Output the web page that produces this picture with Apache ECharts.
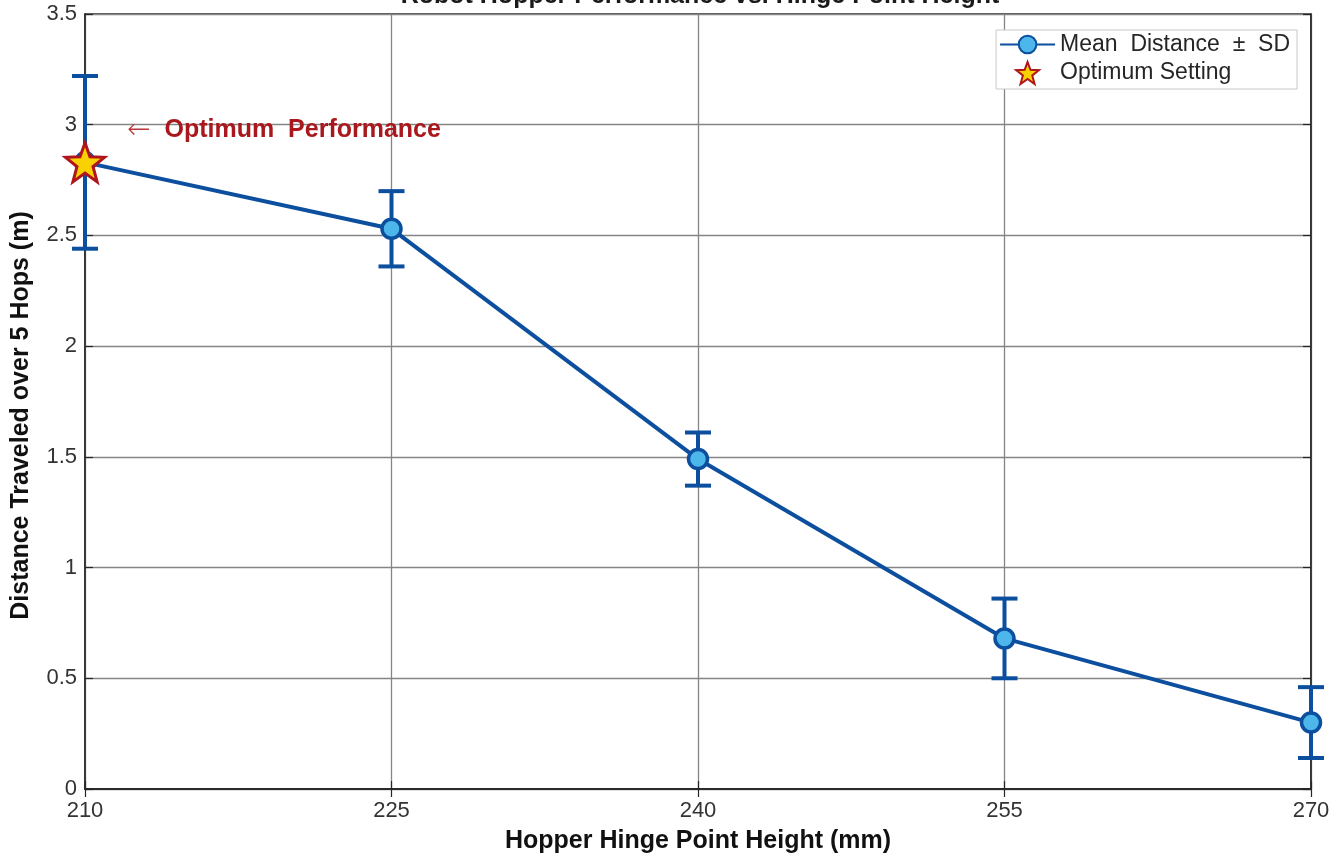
<!DOCTYPE html>
<html>
<head>
<meta charset="utf-8">
<script src="https://cdn.jsdelivr.net/npm/echarts@6/dist/echarts.min.js"></script>
<style>html,body{margin:0;padding:0;background:#fff}#c{width:1335px;height:856px}</style>
</head>
<body>
<div id="c"></div>
<script>
var heights = [210, 225, 240, 255, 270];
var meanDist = [2.83, 2.53, 1.49, 0.68, 0.30];
var sdDist = [0.39, 0.17, 0.12, 0.18, 0.16];
var optimumPoint = [210, 2.83];
var annotationPoint = [210, 2.975];
var xTicks = [210, 225, 240, 255, 270];
var yTicks = [0, 0.5, 1, 1.5, 2, 2.5, 3, 3.5];

var BLUE = '#0B4F9E';
var LIGHT = '#4DB6EA';
var DARKRED = '#A8181C';
var FONT = '"Liberation Sans", Arial, sans-serif';
var STAR = 'path://M50,0 L62.5,34 L99,35.3 L70.2,58 L80.4,95 L50,73.5 L19.6,95 L29.8,58 L1,35.3 L37.5,34 Z';

var meanData = heights.map(function (h, i) { return [h, meanDist[i]]; });
var errData = heights.map(function (h, i) { return [h, meanDist[i] - sdDist[i], meanDist[i] + sdDist[i]]; });

function mkX(pos, labels) {
  return {
    type: 'value', min: 210, max: 270, interval: 15, position: pos,
    name: labels ? 'Hopper Hinge Point Height (mm)' : '', nameLocation: 'middle', nameGap: 40,
    nameTextStyle: { fontFamily: FONT, fontSize: 25, fontWeight: 'bold', color: '#111' },
    axisLine: { show: true, lineStyle: { color: '#262626', width: 1.5 } },
    axisTick: { show: true, inside: true, length: 8, lineStyle: { color: '#262626', width: 1.2 } },
    axisLabel: { show: labels, fontFamily: FONT, fontSize: 22, color: '#333', margin: 11,
      formatter: function (v) { return xTicks.indexOf(v) >= 0 ? String(v) : ''; } },
    splitLine: { show: labels, lineStyle: { color: '#858585', width: 1.3 } }
  };
}
function mkY(pos, labels) {
  return {
    type: 'value', min: 0, max: 3.5, interval: 0.5, position: pos,
    name: labels ? 'Distance Traveled over 5 Hops (m)' : '', nameLocation: 'middle', nameGap: 51, nameRotate: 90,
    nameTextStyle: { fontFamily: FONT, fontSize: 25, fontWeight: 'bold', color: '#111', padding: [0, 28, 0, 0] },
    axisLine: { show: true, lineStyle: { color: '#262626', width: 1.5 } },
    axisTick: { show: true, inside: true, length: 8, lineStyle: { color: '#262626', width: 1.2 } },
    axisLabel: { show: labels, fontFamily: FONT, fontSize: 22, color: '#333', margin: 8,
      formatter: function (v) { return yTicks.indexOf(v) >= 0 ? String(v) : ''; } },
    splitLine: { show: labels, lineStyle: { color: '#858585', width: 1.3 } }
  };
}

var chart = echarts.init(document.getElementById('c'));
chart.setOption({
  animation: false,
  backgroundColor: '#fff',
  textStyle: { fontFamily: FONT },
  title: {
    text: 'Robot Hopper Performance vs. Hinge Point Height',
    left: 695, textAlign: 'center', top: -21,
    textStyle: { fontFamily: FONT, fontSize: 25, fontWeight: 'bold', color: '#1a1a1a' }
  },
  grid: { left: 85, right: 24, top: 14, bottom: 67, outerBoundsMode: 'none', containLabel: false,
    show: true, borderColor: '#262626', borderWidth: 1.5, backgroundColor: 'transparent' },
  legend: {
    right: 38, top: 30, orient: 'vertical',
    backgroundColor: '#fff', borderColor: '#c8c8c8', borderWidth: 1,
    padding: [3, 7, 4, 3], itemGap: 5, itemWidth: 55, itemHeight: 22,
    textStyle: { fontFamily: FONT, fontSize: 23, color: '#262626' },
    data: [
      { name: 'Mean  Distance  \u00b1  SD' },
      { name: 'Optimum Setting', icon: STAR }
    ]
  },
  xAxis: [mkX('bottom', true), mkX('top', false)],
  yAxis: [mkY('left', true), mkY('right', false)],
  series: [
    {
      name: 'errbars', type: 'custom', data: errData, z: 3, silent: true,
      clip: false,
      renderItem: function (params, api) {
        var x = api.value(0);
        var lo = api.coord([x, api.value(1)]);
        var hi = api.coord([x, api.value(2)]);
        var cap = 13;
        var st = { stroke: BLUE, lineWidth: 4, fill: null };
        return {
          type: 'group',
          children: [
            { type: 'line', shape: { x1: lo[0], y1: lo[1], x2: hi[0], y2: hi[1] }, style: st },
            { type: 'line', shape: { x1: lo[0] - cap, y1: lo[1], x2: lo[0] + cap, y2: lo[1] }, style: st },
            { type: 'line', shape: { x1: hi[0] - cap, y1: hi[1], x2: hi[0] + cap, y2: hi[1] }, style: st }
          ]
        };
      }
    },
    {
      name: 'Mean  Distance  \u00b1  SD', type: 'line', data: meanData, z: 4,
      symbol: 'circle', symbolSize: 19, showSymbol: true,
      lineStyle: { color: BLUE, width: 4 },
      itemStyle: { color: LIGHT, borderColor: BLUE, borderWidth: 3.5, opacity: 1 },
      clip: false
    },
    {
      name: 'Optimum Setting', type: 'scatter', data: [optimumPoint], z: 6,
      symbol: STAR, symbolSize: 39,
      itemStyle: { color: '#F9D100', borderColor: '#B0141C', borderWidth: 3, opacity: 1 },
      clip: false
    },
    {
      name: 'annotation', type: 'scatter', data: [annotationPoint], z: 7, silent: true,
      symbolSize: 0, itemStyle: { opacity: 1 },
      label: {
        show: true, position: 'right', distance: 42,
        formatter: '{a|\u2190}{b|Optimum  Performance}',
        rich: {
          a: { fontFamily: '"DejaVu Sans", sans-serif', fontSize: 28, fontWeight: 200, color: '#B8383B' },
          b: { fontFamily: FONT, fontSize: 25, fontWeight: 'bold', color: DARKRED, padding: [0, 0, 0, 14] }
        }
      }
    }
  ]
});
</script>
</body>
</html>
